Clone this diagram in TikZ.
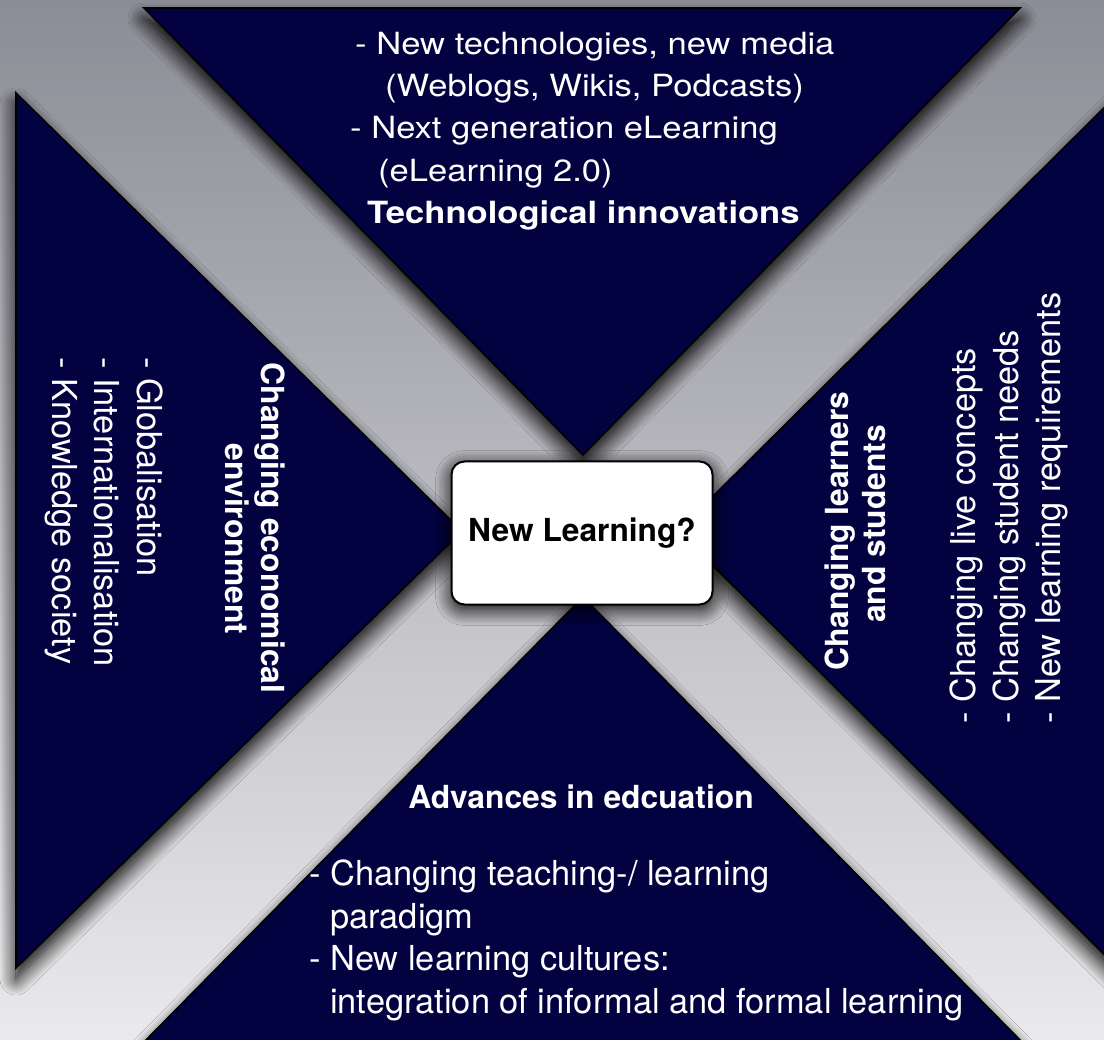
\documentclass[tikz,border=0pt]{standalone}
\usepackage{fontspec}
\setmainfont{TeX Gyre Heros}
\usepackage{graphicx}
\usetikzlibrary{shadows.blur}

\definecolor{navy}{RGB}{2,2,64}
\definecolor{bgtop}{RGB}{140,140,150}
\definecolor{bgmid}{RGB}{186,186,192}
\definecolor{bgbot}{RGB}{234,234,236}

\newcommand{\wide}[1]{\scalebox{1.13}[1]{#1}}

\begin{document}
\begin{tikzpicture}[x=1pt, y=-1pt,
  wedge/.style={fill=navy, draw=black, line width=1.6pt,
    blur shadow={shadow xshift=0pt, shadow yshift=-11pt, shadow blur radius=16pt, shadow blur steps=16, shadow opacity=100}},
  hub/.style={rectangle, rounded corners=13pt, minimum width=261pt, minimum height=143pt, fill=white, draw=black, line width=2pt,
    font=\bfseries\fontsize{31.7}{38}\selectfont,
    blur shadow={shadow xshift=0pt, shadow yshift=-5pt, shadow blur radius=16pt, shadow blur steps=14, shadow opacity=100}},
  toptext/.style={text=white, inner sep=0pt, anchor=base west, font=\fontsize{30.6}{36}\selectfont},
  topbold/.style={toptext, font=\bfseries\fontsize{30.6}{36}\selectfont},
  sidetext/.style={text=white, inner sep=0pt, anchor=base west, font=\fontsize{34.4}{41}\selectfont},
  sidebold/.style={text=white, inner sep=0pt, anchor=base, font=\bfseries\fontsize{31.8}{38}\selectfont}
]
\useasboundingbox (0,0) rectangle (1104,1040);
\fill[top color=bgtop, middle color=bgmid, bottom color=bgbot] (0,0) rectangle (1104,1040);

\begin{scope}
\clip (0,0) rectangle (1104,1040);
% the four wedges
\path[wedge] (144,8) -- (1020,8) -- (583,455) -- cycle;
\path[wedge] (16,93) -- (462,531) -- (16,968) -- cycle;
\path[wedge] (1130,82) -- (678,531) -- (1130,980) -- cycle;
\path[wedge] (140,1046) -- (583,597) -- (1026,1046) -- cycle;
\end{scope}

% top
\node[toptext] (tech1) at (355,55) {\wide{- New technologies, new media}};
\node[toptext] (tech2) at (385,97) {\wide{(Weblogs, Wikis, Podcasts)}};
\node[toptext] (tech3) at (350,139) {\wide{- Next generation eLearning}};
\node[toptext] (tech4) at (378,182) {\wide{(eLearning 2.0)}};
\node[topbold] (techT) at (367,224) {\wide{Technological innovations}};

% left
\node[sidebold, rotate=-90] (ecoT1) at (261,528) {Changing economical};
\node[sidebold, rotate=-90] (ecoT2) at (225,539) {environment};
\node[sidetext, rotate=-90] (eco1) at (137,357) {- Globalisation};
\node[sidetext, rotate=-90] (eco2) at (94.5,357) {- Internationalisation};
\node[sidetext, rotate=-90] (eco3) at (52,357) {- Knowledge society};

% right
\node[sidebold, rotate=90] (lrnT1) at (848,531) {Changing learners};
\node[sidebold, rotate=90] (lrnT2) at (885,524) {and students};
\node[sidetext, rotate=90] (lrn1) at (975,724) {- Changing live concepts};
\node[sidetext, rotate=90] (lrn2) at (1018,724) {- Changing student needs};
\node[sidetext, rotate=90] (lrn3) at (1060,724) {- New learning requirements};

% bottom
\node[sidebold] (eduT) at (581,808) {Advances in edcuation};
\node[sidetext] (edu1) at (309,885.5) {- Changing teaching-/ learning};
\node[sidetext] (edu2) at (330,928) {paradigm};
\node[sidetext] (edu3) at (309,970.5) {- New learning cultures:};
\node[sidetext] (edu4) at (330,1013) {integration of informal and formal learning};

\node[hub] (hub) at (582,533) {New Learning?};
\end{tikzpicture}
\end{document}
